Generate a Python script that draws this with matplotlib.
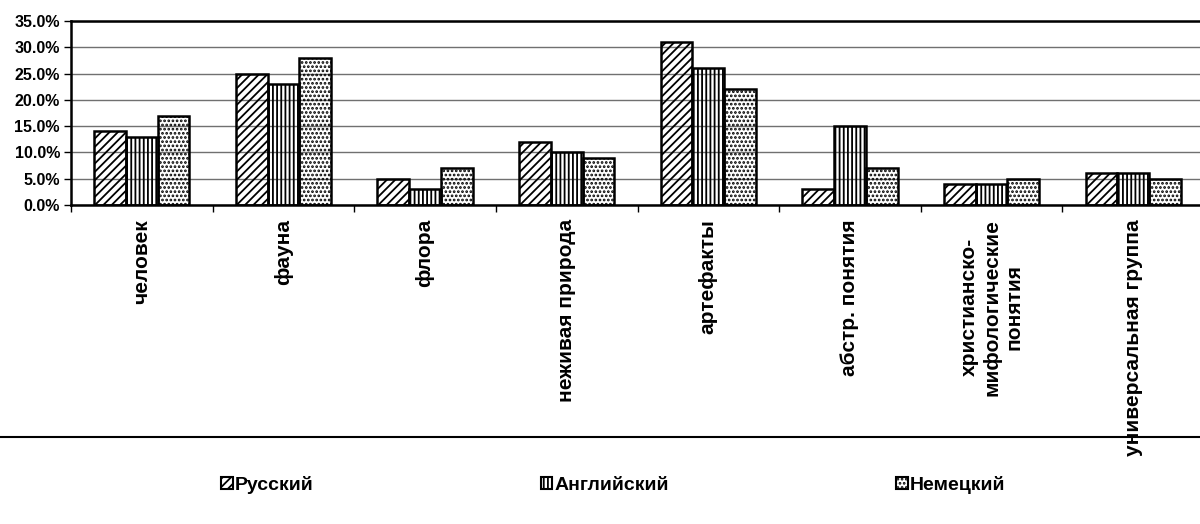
import matplotlib
matplotlib.use("Agg")
import matplotlib.pyplot as plt
import numpy as np
from matplotlib.lines import Line2D
from matplotlib.patches import Patch

# Data (percent)
categories = [
    "человек", "фауна", "флора", "неживая природа", "артефакты",
    "абстр. понятия", "христианско-\nмифологические\nпонятия", "универсальная группа",
]
russian = [14, 25, 5, 12, 31, 3, 4, 6]
english = [13, 23, 3, 10, 26, 15, 4, 6]
german = [17, 28, 7, 9, 22, 7, 5, 5]
series_names = ["Русский", "Английский", "Немецкий"]
hatches = ["////", "||||", "...."]

plt.rcParams["font.family"] = ["Liberation Sans", "DejaVu Sans"]
plt.rcParams["font.weight"] = "bold"
plt.rcParams["hatch.linewidth"] = 1.3

fig = plt.figure(figsize=(12, 5.24), dpi=100)
ax = fig.add_axes([71 / 1200, 1 - 205 / 524, 1133 / 1200, 184 / 524])

x = np.arange(len(categories))
width = 0.224
for i, (vals, hatch) in enumerate(zip([russian, english, german], hatches)):
    ax.bar(x + (i - 1) * width, vals, width, facecolor="none", edgecolor="black",
           hatch=hatch, linewidth=1.8, zorder=3)

ax.set_xlim(-0.5, len(categories) - 0.5)
ax.set_ylim(0, 35)
ax.set_yticks(np.arange(0, 36, 5))
ax.set_yticklabels([f"{v:.1f}%" for v in np.arange(0, 36, 5)], fontsize=11.5, fontweight="bold")
ax.yaxis.grid(True, color="#707070", linewidth=1.0, zorder=0)
ax.set_axisbelow(True)

# ticks between categories, labels at centers
ax.set_xticks(np.arange(-0.5, len(categories), 1.0))
ax.set_xticklabels([])
ax.set_xticks(x, minor=True)
ax.set_xticklabels(categories, minor=True, rotation=90, fontsize=15, fontweight="bold",
                   ha="center", va="top", multialignment="center")
ax.tick_params(axis="x", which="minor", length=0, pad=10)
ax.tick_params(axis="x", which="major", length=5, width=1, direction="out")
ax.tick_params(axis="y", length=5, width=1, direction="out", pad=3)

for side in ["left", "bottom", "top"]:
    ax.spines[side].set_color("black")
    ax.spines[side].set_linewidth(1.8)
ax.spines["right"].set_visible(False)

# lower frame line of the chart area
fig.add_artist(Line2D([0, 1], [1 - 437 / 524] * 2, color="black", linewidth=1.5,
                      transform=fig.transFigure, zorder=0))

handles = [Patch(facecolor="white", edgecolor="black", hatch=h, linewidth=1.5) for h in hatches]
fig.legend(handles, series_names, loc="center", bbox_to_anchor=(0.511, 1 - 485 / 524),
           ncol=3, frameon=False, handlelength=0.6, handleheight=0.6,
           handletextpad=0.1, columnspacing=11.7, prop={"weight": "bold", "size": 14})

fig.savefig("out.png", dpi=100)
